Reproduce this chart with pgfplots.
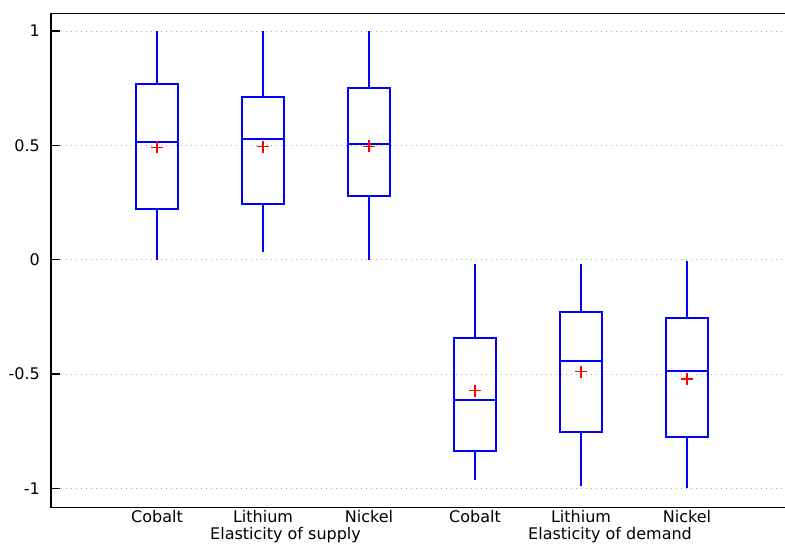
\documentclass[border=0pt]{standalone}
\usepackage{pgfplots}
\pgfplotsset{compat=1.18}
\usepgfplotslibrary{statistics}
\usepackage{fontspec}
\setmainfont{DejaVu Sans}

\definecolor{gridgray}{RGB}{165,165,165}

\begin{document}
\begin{tikzpicture}[font=\fontsize{16}{19}\selectfont]
\begin{axis}[
  scale only axis,
  width=742pt, height=494pt,
  xmin=0, xmax=7,
  ymin=-1.083, ymax=1.0764,
  clip=false,
  axis line style={line width=1.5pt, black},
  xtick={1,2,3,4,5,6},
  xticklabels={Cobalt,Lithium,Nickel,Cobalt,Lithium,Nickel},
  xtick style={draw=none},
  xticklabel style={anchor=base, inner sep=0pt, yshift=-15pt},
  ytick={-1,-0.5,0,0.5,1},
  yticklabels={-1,-0.5,0,0.5,1},
  ytick pos=left,
  yticklabel style={anchor=east, inner sep=0pt, xshift=-11pt},
  tick align=inside,
  major tick length=9pt,
  ytick style={draw=black, line width=1.5pt},
  ymajorgrids,
  major grid style={gridgray, line width=0.8pt, dash pattern=on 0.8pt off 4.2pt},
  boxplot/draw direction=y,
  boxplot/box extend=0.4,
  boxplot/whisker extend=0,
  boxstyle/.style={draw=blue, fill=none, line width=2pt, solid, mark=none},
]
% Elasticity of supply
\addplot[boxstyle, boxplot prepared={draw position=1, lower whisker=0.0, lower quartile=0.224, median=0.515, upper quartile=0.769, upper whisker=1.0}] coordinates {};
\addplot[boxstyle, boxplot prepared={draw position=2, lower whisker=0.034, lower quartile=0.242, median=0.528, upper quartile=0.713, upper whisker=1.0}] coordinates {};
\addplot[boxstyle, boxplot prepared={draw position=3, lower whisker=0.0, lower quartile=0.279, median=0.505, upper quartile=0.750, upper whisker=1.0}] coordinates {};
% Elasticity of demand
\addplot[boxstyle, boxplot prepared={draw position=4, lower whisker=-0.961, lower quartile=-0.834, median=-0.613, upper quartile=-0.342, upper whisker=-0.020}] coordinates {};
\addplot[boxstyle, boxplot prepared={draw position=5, lower whisker=-0.987, lower quartile=-0.754, median=-0.443, upper quartile=-0.229, upper whisker=-0.019}] coordinates {};
\addplot[boxstyle, boxplot prepared={draw position=6, lower whisker=-0.999, lower quartile=-0.776, median=-0.486, upper quartile=-0.256, upper whisker=-0.007}] coordinates {};
% means
\addplot[only marks, mark=+, mark size=6pt, draw=red, mark options={draw=red, line width=1.3pt}] coordinates {
  (1,0.492) (2,0.495) (3,0.496) (4,-0.572) (5,-0.489) (6,-0.521)
};
\node[anchor=base west, inner sep=0pt] at ([yshift=-32pt]axis cs:1.5,-1.083) {Elasticity of supply};
\node[anchor=base west, inner sep=0pt] at ([yshift=-32pt]axis cs:4.5,-1.083) {Elasticity of demand};
\end{axis}
% the page stops short of the right-hand frame line
\pgfresetboundingbox
\path[use as bounding box] ([shift={(-51pt,-37pt)}]current axis.south west) rectangle ([shift={(734pt,507.5pt)}]current axis.south west);
\end{tikzpicture}
\end{document}
